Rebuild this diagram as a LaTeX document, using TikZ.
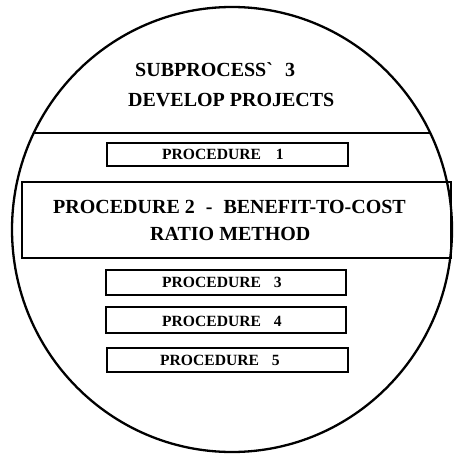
\documentclass[tikz,border=0pt]{standalone}
\usepackage{fontspec}
\setmainfont{Liberation Serif}
\usetikzlibrary{shapes.geometric}
\begin{document}
\begin{tikzpicture}[x=1pt,y=-1pt,
  procbox/.style={draw,line width=1.5pt,minimum width=240pt,minimum height=24pt,inner sep=0pt},
  proctext/.style={anchor=base west,inner sep=0pt,font=\fontsize{15.6}{15.6}\selectfont\bfseries},
  bigtext/.style={anchor=base west,inner sep=0pt,font=\fontsize{20}{20}\selectfont\bfseries}]
\useasboundingbox (0,0) rectangle (454,454);
% outer circle
\node[draw,line width=2.3pt,ellipse,minimum width=440pt,minimum height=445pt,inner sep=0pt] (circ) at (232,229.5) {};
\begin{scope}
  \clip (232,229.5) ellipse [x radius=220pt,y radius=222.5pt];
  \coordinate (hl) at (0,133);
  \coordinate (hr) at (454,133);
  \draw[line width=1.7pt] (hl) -- (hr);
\end{scope}
% title
\node[bigtext] (t1) at (135,77) {SUBPROCESS\textasciigrave\hspace{12pt}3};
\node[bigtext] (t2) at (128,107) {DEVELOP PROJECTS};
% boxes
\node[procbox,minimum width=241pt,minimum height=23pt] (p1) at (227.5,154.5) {};
\node[procbox,minimum width=429pt,minimum height=76pt] (p2) at (236.5,220) {};
\node[procbox,minimum height=25pt] (p3) at (226,282.5) {};
\node[procbox,minimum height=26pt] (p4) at (226,320) {};
\node[procbox,minimum width=241pt] (p5) at (227.5,360) {};
% texts
\node[proctext] (l1) at (162,160) {PROCEDURE\hspace{15pt}1};
\node[bigtext] (l2a) at (53,213) {PROCEDURE 2\hspace{6pt} -\hspace{6pt} BENEFIT-TO-COST};
\node[bigtext] (l2b) at (150,240) {RATIO METHOD};
\node[proctext] (l3) at (162,287) {PROCEDURE\hspace{13pt}3};
\node[proctext] (l4) at (162,326) {PROCEDURE\hspace{13pt}4};
\node[proctext] (l5) at (160,365) {PROCEDURE\hspace{13pt}5};
\end{tikzpicture}
\end{document}
